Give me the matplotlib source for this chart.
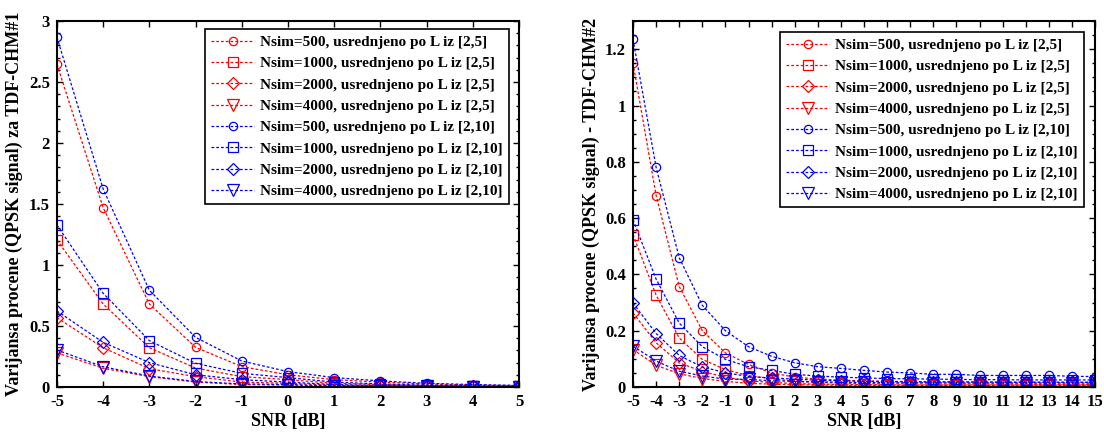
import numpy as np
import matplotlib
matplotlib.use('Agg')
import matplotlib.pyplot as plt
from matplotlib.ticker import MultipleLocator

plt.rcParams['font.family'] = ['Liberation Serif', 'DejaVu Serif']
plt.rcParams['font.weight'] = 'bold'
plt.rcParams['axes.unicode_minus'] = False

# SNR axes
snr1 = [-5, -4, -3, -2, -1, 0, 1, 2, 3, 4, 5]
snr2 = list(range(-5, 16))

labels = ['Nsim=500, usrednjeno po L iz [2,5]',
          'Nsim=1000, usrednjeno po L iz [2,5]',
          'Nsim=2000, usrednjeno po L iz [2,5]',
          'Nsim=4000, usrednjeno po L iz [2,5]',
          'Nsim=500, usrednjeno po L iz [2,10]',
          'Nsim=1000, usrednjeno po L iz [2,10]',
          'Nsim=2000, usrednjeno po L iz [2,10]',
          'Nsim=4000, usrednjeno po L iz [2,10]']

# TDF-CHM#1, L in [2,5]
r500_1 = [2.645, 1.47, 0.68, 0.325, 0.167, 0.10, 0.06, 0.04, 0.025, 0.016, 0.011]
r1000_1 = [1.205, 0.68, 0.322, 0.155, 0.085, 0.06, 0.03, 0.02, 0.012, 0.008, 0.006]
r2000_1 = [0.568, 0.322, 0.15, 0.085, 0.04, 0.03, 0.015, 0.01, 0.006, 0.004, 0.003]
r4000_1 = [0.28, 0.153, 0.085, 0.04, 0.02, 0.015, 0.008, 0.005, 0.003, 0.002, 0.0015]
# TDF-CHM#1, L in [2,10]
b500_1 = [2.866, 1.623, 0.793, 0.407, 0.213, 0.126, 0.077, 0.05, 0.03, 0.02, 0.013]
b1000_1 = [1.328, 0.768, 0.38, 0.194, 0.112, 0.077, 0.04, 0.025, 0.015, 0.01, 0.007]
b2000_1 = [0.623, 0.366, 0.2, 0.1, 0.06, 0.04, 0.02, 0.013, 0.008, 0.005, 0.0035]
b4000_1 = [0.303, 0.166, 0.09, 0.045, 0.025, 0.02, 0.01, 0.006, 0.004, 0.003, 0.002]

# TDF-CHM#2, L in [2,5]
r500_2 = [1.15, 0.68, 0.357, 0.20, 0.121, 0.08, 0.05, 0.035, 0.028, 0.024, 0.022,
          0.02, 0.019, 0.018, 0.018, 0.017, 0.017, 0.017, 0.016, 0.016, 0.016]
r1000_2 = [0.541, 0.326, 0.174, 0.098, 0.062, 0.04, 0.03, 0.02, 0.016, 0.014, 0.012,
           0.011, 0.011, 0.010, 0.010, 0.010, 0.010, 0.010, 0.009, 0.009, 0.009]
r2000_2 = [0.263, 0.157, 0.086, 0.055, 0.035, 0.022, 0.016, 0.012, 0.010, 0.009, 0.008,
           0.008, 0.007, 0.007, 0.007, 0.007, 0.007, 0.007, 0.007, 0.007, 0.007]
r4000_2 = [0.133, 0.077, 0.047, 0.03, 0.02, 0.013, 0.01, 0.008, 0.007, 0.006, 0.006,
           0.005, 0.005, 0.005, 0.005, 0.005, 0.005, 0.005, 0.005, 0.005, 0.005]
# TDF-CHM#2, L in [2,10]
b500_2 = [1.235, 0.78, 0.459, 0.29, 0.20, 0.143, 0.109, 0.086, 0.072, 0.066, 0.059,
          0.053, 0.05, 0.045, 0.045, 0.041, 0.041, 0.041, 0.041, 0.038, 0.037]
b1000_2 = [0.594, 0.383, 0.227, 0.143, 0.098, 0.072, 0.059, 0.045, 0.039, 0.035, 0.032,
           0.03, 0.029, 0.028, 0.027, 0.026, 0.026, 0.025, 0.025, 0.025, 0.025]
b2000_2 = [0.298, 0.19, 0.112, 0.071, 0.051, 0.037, 0.032, 0.028, 0.024, 0.022, 0.02,
           0.019, 0.019, 0.018, 0.018, 0.018, 0.017, 0.017, 0.017, 0.017, 0.017]
b4000_2 = [0.145, 0.092, 0.056, 0.039, 0.028, 0.027, 0.022, 0.02, 0.018, 0.017, 0.016,
           0.015, 0.015, 0.015, 0.014, 0.014, 0.014, 0.014, 0.014, 0.014, 0.014]

markers = ['o', 's', 'D', 'v']
msizes = [6, 6.5, 6.5, 8]
ls = (0, (2.2, 1.6))

fig = plt.figure(figsize=(11.04, 4.32), dpi=100)
ax1 = fig.add_axes([0.0516, 0.1042, 0.4185, 0.847])
ax2 = fig.add_axes([0.5734, 0.1042, 0.4185, 0.847])


def draw(ax, x, reds, blues):
    for i, y in enumerate(reds):
        ax.plot(x, y, linestyle=ls, color='red', lw=0.9, marker=markers[i],
                ms=msizes[i], mfc='none', mec='red', mew=0.9, label=labels[i])
    for i, y in enumerate(blues):
        ax.plot(x, y, linestyle=ls, color='blue', lw=0.9, marker=markers[i],
                ms=msizes[i], mfc='none', mec='blue', mew=0.9, label=labels[4 + i])


draw(ax1, snr1, [r500_1, r1000_1, r2000_1, r4000_1], [b500_1, b1000_1, b2000_1, b4000_1])
draw(ax2, snr2, [r500_2, r1000_2, r2000_2, r4000_2], [b500_2, b1000_2, b2000_2, b4000_2])

ax1.set_xlim(-5, 5)
ax1.set_ylim(0, 3)
ax1.xaxis.set_major_locator(MultipleLocator(1))
ax1.yaxis.set_minor_locator(MultipleLocator(0.1))
ax1.set_yticks([0, 0.5, 1, 1.5, 2, 2.5, 3], ['0', '0.5', '1', '1.5', '2', '2.5', '3'])
ax1.set_ylabel('Varijansa procene (QPSK signal) za TDF-CHM#1', fontsize=13, fontweight='bold')

ax2.set_xlim(-5, 15)
ax2.set_ylim(0, 1.3)
ax2.xaxis.set_major_locator(MultipleLocator(1))
ax2.set_yticks([0, 0.2, 0.4, 0.6, 0.8, 1, 1.2], ['0', '0.2', '0.4', '0.6', '0.8', '1', '1.2'])
ax2.yaxis.set_minor_locator(MultipleLocator(0.05))
ax2.set_ylabel('Varijansa procene (QPSK signal) - TDF-CHM#2', fontsize=13, fontweight='bold')

for ax, anchor in [(ax1, (0.978, 0.978)), (ax2, (0.976, 0.970))]:
    ax.set_xlabel('SNR [dB]', fontsize=13, fontweight='bold', labelpad=2)
    ax.tick_params(which='both', direction='in', top=True, right=True, labelsize=12)
    ax.tick_params(axis='x', pad=5)
    ax.tick_params(axis='y', pad=5)
    ax.tick_params(which='major', length=4, width=1)
    ax.tick_params(which='minor', length=2.5, width=1)
    for s in ax.spines.values():
        s.set_linewidth(1.5)
    leg = ax.legend(loc='upper right', bbox_to_anchor=anchor, borderaxespad=0,
                    prop={'weight': 'bold', 'size': 11}, frameon=True, fancybox=False,
                    edgecolor='black', framealpha=1, handlelength=2.8, labelspacing=0.5,
                    borderpad=0.4, handletextpad=0.4)
    leg.get_frame().set_linewidth(1.2)

fig.savefig('out.png', dpi=100)
